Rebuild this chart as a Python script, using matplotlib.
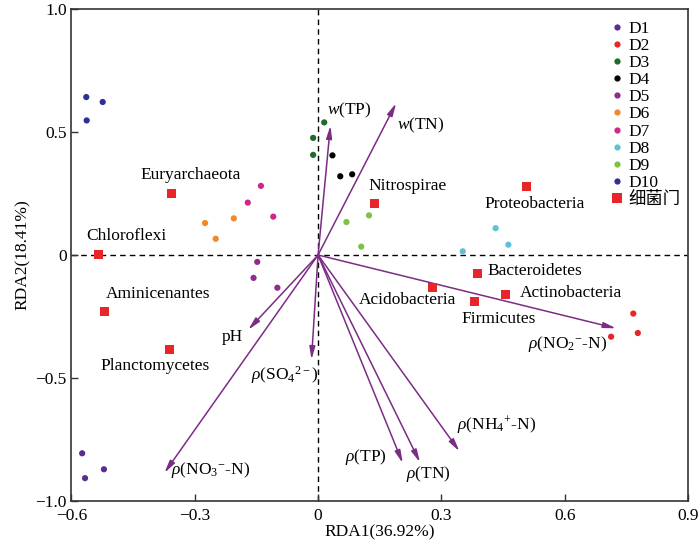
import matplotlib
matplotlib.use("Agg")
import matplotlib.pyplot as plt
from matplotlib.lines import Line2D

plt.rcParams['font.family'] = ['Liberation Serif', 'Noto Sans CJK SC']
plt.rcParams['mathtext.fontset'] = 'custom'
plt.rcParams['mathtext.rm'] = 'Liberation Serif'
plt.rcParams['mathtext.it'] = 'Liberation Serif:italic'
plt.rcParams['axes.unicode_minus'] = True

# ---- sample sites ----
groups = ["D1", "D2", "D3", "D4", "D5", "D6", "D7", "D8", "D9", "D10"]
group_colors = ["#5B2D8E", "#E8262A", "#1E6B2A", "#000000", "#8E2D8E",
                "#F08A24", "#D4238C", "#5BC3D3", "#7DC242", "#2E3192"]
site_x = [
    [-0.574, -0.521, -0.567],
    [0.713, 0.767, 0.778],
    [0.015, -0.012, -0.012],
    [0.035, 0.054, 0.083],
    [-0.148, -0.157, -0.099],
    [-0.275, -0.249, -0.205],
    [-0.139, -0.171, -0.109],
    [0.352, 0.432, 0.463],
    [0.069, 0.124, 0.105],
    [-0.564, -0.524, -0.563],
]
site_y = [
    [-0.806, -0.871, -0.907],
    [-0.332, -0.238, -0.317],
    [0.539, 0.476, 0.407],
    [0.405, 0.320, 0.328],
    [-0.028, -0.093, -0.133],
    [0.130, 0.066, 0.149],
    [0.281, 0.213, 0.156],
    [0.015, 0.109, 0.042],
    [0.134, 0.161, 0.034],
    [0.642, 0.622, 0.547],
]

# ---- bacteria phyla ----
phyla = ["Euryarchaeota", "Chloroflexi", "Aminicenantes", "Planctomycetes",
         "Nitrospirae", "Proteobacteria", "Bacteroidetes", "Acidobacteria",
         "Actinobacteria", "Firmicutes"]
phyla_x = [-0.357, -0.535, -0.519, -0.362, 0.138, 0.508, 0.388, 0.279, 0.457, 0.380]
phyla_y = [0.248, 0.001, -0.230, -0.385, 0.210, 0.277, -0.074, -0.133, -0.159, -0.190]
phyla_text_x = [-0.310, -0.467, -0.389, -0.396, 0.217, 0.526, 0.411, 0.218, 0.490, 0.440]
phyla_text_y = [0.325, 0.077, -0.157, -0.450, 0.279, 0.206, -0.066, -0.184, -0.156, -0.260]
phyla_ha = ["center", "center", "center", "center", "center", "center",
            "left", "center", "left", "center"]

# ---- environmental factors ----
env_labels = [r"$w$(TP)", r"$w$(TN)", r"$\rho$(NO$_2$$^{-}$-N)", "pH",
              r"$\rho$(NO$_3$$^{-}$-N)", r"$\rho$(SO$_4$$^{2-}$)", r"$\rho$(TP)",
              r"$\rho$(TN)", r"$\rho$(NH$_4$$^{+}$-N)"]
env_x = [0.030, 0.190, 0.725, -0.170, -0.374, -0.016, 0.206, 0.248, 0.344]
env_y = [0.526, 0.617, -0.298, -0.304, -0.886, -0.425, -0.846, -0.843, -0.798]
env_text_x = [0.075, 0.250, 0.608, -0.208, -0.262, -0.080, 0.117, 0.268, 0.433]
env_text_y = [0.586, 0.526, -0.362, -0.335, -0.875, -0.487, -0.820, -0.892, -0.690]

arrow_color = "#7B2C85"

fig = plt.figure(figsize=(7.0, 5.45), dpi=100)
ax = fig.add_axes([0.1021, 0.0807, 0.8807, 0.9028])

ax.axhline(0, color="black", ls=(0, (4, 3)), lw=1.0, zorder=1)
ax.axvline(0, color="black", ls=(0, (4, 3)), lw=1.0, zorder=1)

for g, c, xs, ys in zip(groups, group_colors, site_x, site_y):
    ax.scatter(xs, ys, s=20, color=c, edgecolors='none', zorder=3)

ax.scatter(phyla_x, phyla_y, s=42, marker='s', color="#E8262A", edgecolors='none', zorder=3)
for name, tx, ty, ha in zip(phyla, phyla_text_x, phyla_text_y, phyla_ha):
    ax.text(tx, ty, name, ha=ha, va="center", fontsize=12.5, zorder=4)

for lab, x, y, tx, ty in zip(env_labels, env_x, env_y, env_text_x, env_text_y):
    ax.annotate("", xy=(x, y), xytext=(0, 0),
                arrowprops=dict(arrowstyle="-|>,head_length=0.75,head_width=0.17",
                                color=arrow_color, lw=1.1, shrinkA=0, shrinkB=0),
                zorder=2)
    ax.text(tx, ty, lab, ha="center", va="center", fontsize=12.5, zorder=4)

ax.set_xlim(-0.6, 0.9)
ax.set_ylim(-1.0, 1.0)
ax.set_xticks([-0.6, -0.3, 0, 0.3, 0.6, 0.9])
ax.set_xticklabels(["\u22120.6", "\u22120.3", "0", "0.3", "0.6", "0.9"])
ax.set_yticks([-1.0, -0.5, 0, 0.5, 1.0])
ax.set_yticklabels(["\u22121.0", "\u22120.5", "0", "0.5", "1.0"])
ax.tick_params(direction="in", length=5, width=1.0, labelsize=12.5,
               top=False, right=False, colors="#333333", labelcolor="black")
ax.tick_params(axis="x", pad=5.0)
ax.tick_params(axis="y", pad=3.5)
for sp in ax.spines.values():
    sp.set_linewidth(1.2)
    sp.set_color("#333333")

ax.set_xlabel("RDA1(36.92%)", fontsize=12.5, labelpad=0)
ax.set_ylabel("RDA2(18.41%)", fontsize=12.5, labelpad=3)

handles = [Line2D([], [], marker='o', ls='none', color=c, markersize=4.5,
                  markeredgewidth=0) for c in group_colors]
handles.append(Line2D([], [], marker='s', ls='none', color="#E8262A",
                      markersize=6.5, markeredgewidth=0))
labels = groups + ["细菌门"]
ax.legend(handles, labels, loc="upper left", bbox_to_anchor=(0.873, 0.976),
          frameon=False, fontsize=12.5, handlelength=0.8, handletextpad=0.3,
          labelspacing=0.055, borderaxespad=0.0, borderpad=0.0)

fig.savefig("out.png", dpi=100)
